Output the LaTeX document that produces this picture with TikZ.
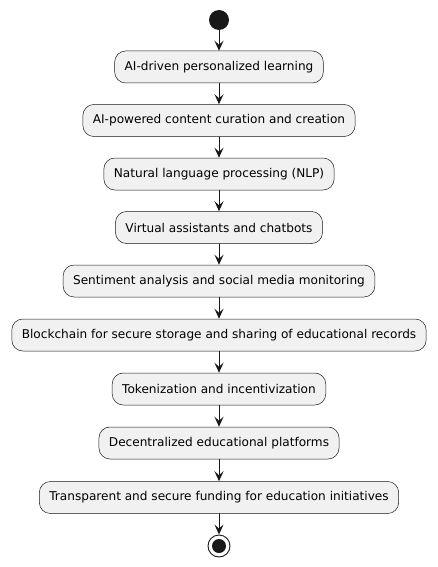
\documentclass[tikz,border=0pt]{standalone}
\usepackage{fontspec}
\setmainfont{DejaVu Sans}
\usetikzlibrary{arrows.meta}
\definecolor{boxfill}{HTML}{F1F1F1}
\definecolor{ink}{HTML}{181818}
\tikzset{
	act/.style={draw=ink, fill=boxfill, line width=0.5pt, rounded corners=11pt, minimum height=32pt, inner xsep=10pt, font=\fontsize{12.1}{14}\selectfont},
	flow/.style={draw=ink, line width=0.9pt, -{Stealth[length=10pt, width=9pt, inset=4pt]}}
}
\begin{document}
\begin{tikzpicture}[x=1pt, y=-1pt, line join=round, line cap=round]
	\useasboundingbox (0,0) rectangle (438,567);
	\fill[ink] (219,20) circle (10);
	\node (start) at (219,20) [circle, minimum size=20pt, inner sep=0pt] {};
	\node[act] (a1) at (219,67) {AI-driven personalized learning};
	\node[act] (a2) at (219,120.5) {AI-powered content curation and creation};
	\node[act] (a3) at (219,174) {Natural language processing (NLP)};
	\node[act] (a4) at (219,227.5) {Virtual assistants and chatbots};
	\node[act] (a5) at (219,281) {Sentiment analysis and social media monitoring};
	\node[act] (a6) at (219,335) {Blockchain for secure storage and sharing of educational records};
	\node[act] (a7) at (219,389) {Tokenization and incentivization};
	\node[act] (a8) at (219,443) {Decentralized educational platforms};
	\node[act] (a9) at (219,497.5) {Transparent and secure funding for education initiatives};
	% end point
	\node (stop) at (219,546) [circle, draw=ink, line width=0.9pt, minimum size=22pt, inner sep=0pt] {};
	\fill[ink] (stop) circle (7);
	\draw[flow] (start) -- (a1);
	\draw[flow] (a1) -- (a2);
	\draw[flow] (a2) -- (a3);
	\draw[flow] (a3) -- (a4);
	\draw[flow] (a4) -- (a5);
	\draw[flow] (a5) -- (a6);
	\draw[flow] (a6) -- (a7);
	\draw[flow] (a7) -- (a8);
	\draw[flow] (a8) -- (a9);
	\draw[flow] (a9) -- (stop);
\end{tikzpicture}
\end{document}
